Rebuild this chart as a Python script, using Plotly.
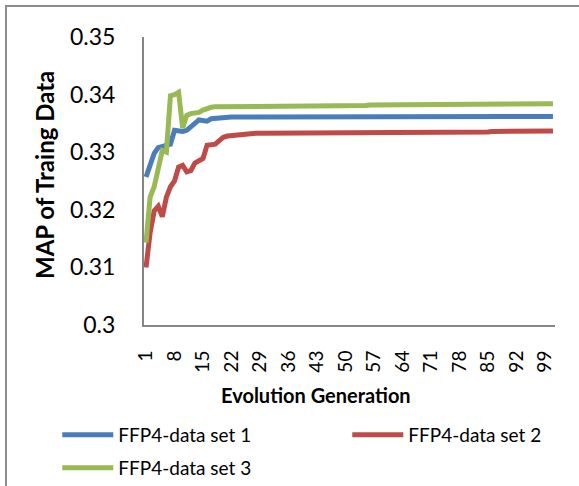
import plotly.graph_objects as go

generations = list(range(1, 102))
tick_vals = [1, 8, 15, 22, 29, 36, 43, 50, 57, 64, 71, 78, 85, 92, 99]
y_tick_vals = [0.30, 0.31, 0.32, 0.33, 0.34, 0.35]
y_tick_text = ["0.3", "0.31", "0.32", "0.33", "0.34", "0.35"]
x_title = "Evolution Generation"
y_title = "MAP of Traing Data"

set1 = [
    0.3257, 0.3280, 0.3298, 0.3308, 0.3310, 0.3311, 0.3314, 0.3338, 0.3337, 0.3336,
    0.3338, 0.3343, 0.3350, 0.3356, 0.3355, 0.3354, 0.3358, 0.3359, 0.3360, 0.3360,
    0.3361, 0.3361, 0.3361, 0.3361, 0.3362, 0.3362, 0.3362, 0.3362, 0.3362, 0.3362,
    0.3362, 0.3362, 0.3362, 0.3362, 0.3362, 0.3362, 0.3362, 0.3362, 0.3362, 0.3362,
    0.3362, 0.3362, 0.3362, 0.3362, 0.3362, 0.3362, 0.3362, 0.3362, 0.3362, 0.3362,
    0.3362, 0.3362, 0.3362, 0.3362, 0.3362, 0.3362, 0.3362, 0.3362, 0.3362, 0.3362,
    0.3362, 0.3362, 0.3362, 0.3362, 0.3362, 0.3362, 0.3362, 0.3362, 0.3362, 0.3362,
    0.3362, 0.3362, 0.3362, 0.3362, 0.3362, 0.3362, 0.3362, 0.3362, 0.3362, 0.3362,
    0.3362, 0.3362, 0.3362, 0.3362, 0.3362, 0.3362, 0.3362, 0.3362, 0.3362, 0.3362,
    0.3362, 0.3362, 0.3362, 0.3362, 0.3362, 0.3362, 0.3362, 0.3362, 0.3362, 0.3362,
    0.3362,
]

set2 = [
    0.3100, 0.3160, 0.3198, 0.3206, 0.3188, 0.3222, 0.3240, 0.3250, 0.3274, 0.3277,
    0.3266, 0.3268, 0.3281, 0.3286, 0.3289, 0.3312, 0.3313, 0.3314, 0.3320, 0.3326,
    0.3328, 0.3329, 0.3330, 0.3331, 0.3332, 0.3333, 0.3333, 0.3333, 0.3333, 0.3333,
    0.3335, 0.3335, 0.3335, 0.3335, 0.3335, 0.3335, 0.3335, 0.3335, 0.3335, 0.3335,
    0.3335, 0.3335, 0.3335, 0.3335, 0.3335, 0.3335, 0.3335, 0.3335, 0.3335, 0.3335,
    0.3335, 0.3335, 0.3335, 0.3335, 0.3335, 0.3333, 0.3333, 0.3333, 0.3333, 0.3333,
    0.3333, 0.3333, 0.3333, 0.3333, 0.3333, 0.3333, 0.3335, 0.3335, 0.3335, 0.3335,
    0.3335, 0.3335, 0.3335, 0.3335, 0.3335, 0.3335, 0.3335, 0.3335, 0.3335, 0.3335,
    0.3335, 0.3335, 0.3335, 0.3335, 0.3335, 0.3336, 0.3336, 0.3336, 0.3336, 0.3336,
    0.3336, 0.3336, 0.3336, 0.3336, 0.3336, 0.3337, 0.3337, 0.3337, 0.3337, 0.3337,
    0.3337,
]

set3 = [
    0.3143, 0.3222, 0.3240, 0.3275, 0.3303, 0.3300, 0.3398, 0.3400, 0.3404, 0.3342,
    0.3364, 0.3367, 0.3368, 0.3369, 0.3373, 0.3376, 0.3378, 0.3379, 0.3379, 0.3380,
    0.3380, 0.3380, 0.3380, 0.3380, 0.3380, 0.3380, 0.3380, 0.3380, 0.3381, 0.3381,
    0.3381, 0.3381, 0.3381, 0.3381, 0.3381, 0.3381, 0.3381, 0.3381, 0.3381, 0.3381,
    0.3381, 0.3381, 0.3381, 0.3381, 0.3381, 0.3381, 0.3381, 0.3381, 0.3381, 0.3381,
    0.3381, 0.3381, 0.3381, 0.3381, 0.3381, 0.3382, 0.3382, 0.3382, 0.3382, 0.3382,
    0.3382, 0.3382, 0.3382, 0.3382, 0.3384, 0.3384, 0.3384, 0.3384, 0.3384, 0.3384,
    0.3384, 0.3384, 0.3384, 0.3384, 0.3384, 0.3384, 0.3384, 0.3384, 0.3384, 0.3384,
    0.3384, 0.3384, 0.3384, 0.3384, 0.3384, 0.3384, 0.3384, 0.3384, 0.3384, 0.3384,
    0.3384, 0.3384, 0.3384, 0.3384, 0.3384, 0.3384, 0.3384, 0.3384, 0.3384, 0.3384,
    0.3384,
]

series_names = ["FFP4-data set 1", "FFP4-data set 2", "FFP4-data set 3"]
series_colors = ["#4A7EBB", "#BE4B48", "#98B954"]

FONT = "Lato"

fig = go.Figure()
for vals, name, color, leg in zip([set1, set2, set3], series_names, series_colors,
                                  ["legend", "legend2", "legend3"]):
    fig.add_trace(go.Scatter(
        x=generations, y=vals, mode="lines", name=name,
        line=dict(color=color, width=5),
        legend=leg,
    ))


def legend_box(x, y):
    return dict(
        orientation="h", x=x, xanchor="left", y=y, yanchor="middle",
        font=dict(family=FONT, size=19, color="black"),
        itemwidth=51, bgcolor="rgba(0,0,0,0)",
    )


fig.update_layout(
    width=579, height=486,
    margin=dict(l=144, r=24, t=37, b=161, autoexpand=False),
    paper_bgcolor="white", plot_bgcolor="white",
    font=dict(family=FONT, color="black"),
    showlegend=True,
    legend=legend_box(-0.211, -0.382),
    legend2=legend_box(0.4946, -0.382),
    legend3=legend_box(-0.211, -0.4965),
    xaxis=dict(
        range=[0.5, 101.5], tickmode="array", tickvals=tick_vals,
        tickangle=-90, showgrid=False, zeroline=False, automargin=False,
        showline=True, linecolor="#868686", linewidth=2,
        ticks="outside", ticklen=16, tickcolor="rgba(0,0,0,0)",
        tickfont=dict(family=FONT, size=19, color="black"),
    ),
    yaxis=dict(
        range=[0.3, 0.35], tickmode="array", tickvals=y_tick_vals, ticktext=y_tick_text,
        showgrid=False, zeroline=False, automargin=False,
        showline=True, linecolor="#868686", linewidth=2,
        ticks="outside", ticklen=22, tickcolor="rgba(0,0,0,0)",
        tickfont=dict(family=FONT, size=23, color="black"),
    ),
    annotations=[
        dict(text="<b>" + x_title + "</b>", xref="paper", yref="paper",
             x=(316 - 144) / 411, y=(325 - 395) / 288, xanchor="center", yanchor="middle",
             showarrow=False, font=dict(family=FONT, size=20, color="black")),
        dict(text="<b>" + y_title + "</b>", xref="paper", yref="paper",
             x=(44 - 144) / 411, y=(325 - 175) / 288, xanchor="center", yanchor="middle",
             textangle=-90, showarrow=False, font=dict(family=FONT, size=24, color="black")),
    ],
    shapes=[dict(
        type="rect", xref="paper", yref="paper",
        x0=(6 - 144) / 411, x1=1.3, y0=-0.8, y1=(325 - 6) / 288,
        line=dict(color="#8C8C8C", width=2), fillcolor="rgba(0,0,0,0)", layer="below",
    )],
)

fig.write_html("out.html")
